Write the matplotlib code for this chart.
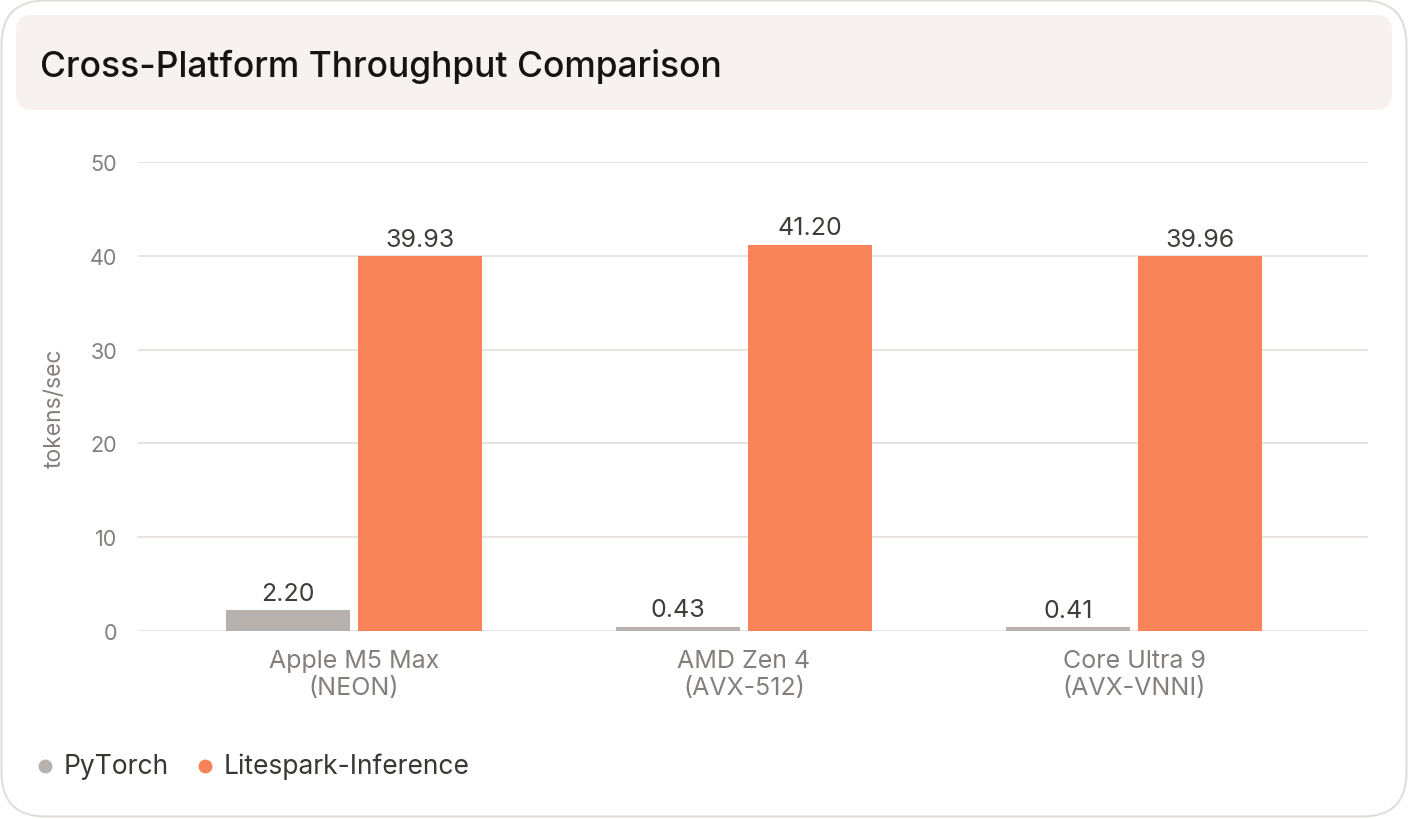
import matplotlib
matplotlib.use("Agg")
from matplotlib import pyplot as plt
from matplotlib.patches import FancyBboxPatch
import numpy as np

# data
platforms = ["Apple M5 Max\n(NEON)", "AMD Zen 4\n(AVX-512)", "Core Ultra 9\n(AVX-VNNI)"]
series_names = ["PyTorch", "Litespark-Inference"]
pytorch_tps = [2.20, 0.43, 0.41]
litespark_tps = [39.93, 41.20, 39.96]
y_ticks = [0, 10, 20, 30, 40, 50]

colors = ["#b7b2ad", "#f98358"]
plt.rcParams['font.family'] = ['Inter', 'DejaVu Sans']

W, H = 1408, 820
fig = plt.figure(figsize=(W / 100, H / 100), dpi=100)

# background card, in pixel coordinates
bg = fig.add_axes([0, 0, 1, 1])
bg.set_xlim(0, W)
bg.set_ylim(H, 0)
bg.axis("off")
bg.add_patch(FancyBboxPatch((1.5, 1.5), W - 3, H - 4, boxstyle="round,pad=0,rounding_size=44",
                            facecolor="white", edgecolor="#e2ddd9", linewidth=1.5))
bg.add_patch(FancyBboxPatch((16, 16), 1376, 95, boxstyle="round,pad=0,rounding_size=16",
                            facecolor="#f7f2ef", edgecolor="none"))
bg.text(40, 66, "Cross-Platform Throughput Comparison", fontsize=25.5, fontweight="medium",
        color="#161412", va="center", ha="left")

# legend
lx = 45
for name, c in zip(series_names, colors):
    bg.plot(lx, 767, "o", markersize=9, color=c)
    t = bg.text(lx + 19, 767, name, fontsize=19, color="#3a3633", va="center", ha="left")
    fig.canvas.draw()
    bb = t.get_window_extent()
    lx = bb.x1 + 36

# main chart
ax = fig.add_axes([138 / W, 1 - 632 / H, 1230 / W, (632 - 163) / H])
x = np.arange(len(platforms))
bw = 0.318
off = 0.169
b1 = ax.bar(x - off, pytorch_tps, width=bw, color=colors[0], zorder=3)
b2 = ax.bar(x + off, litespark_tps, width=bw, color=colors[1], zorder=3)
for bars, vals in ((b1, pytorch_tps), (b2, litespark_tps)):
    for r, v in zip(bars, vals):
        ax.annotate(f"{v:.2f}", (r.get_x() + r.get_width() / 2, v), xytext=(0, 4),
                    textcoords="offset points", ha="center", va="bottom",
                    fontsize=18, color="#403c39")

ax.set_xlim(-0.554, 2.6)
ax.set_ylim(0, 50)
ax.set_yticks(y_ticks)
ax.set_xticks(x)
ax.set_xticklabels(platforms, linespacing=1.2)
ax.tick_params(axis="y", length=0, pad=15, labelsize=15.5, labelcolor="#857f7b")
ax.tick_params(axis="x", length=0, pad=13, labelsize=18, labelcolor="#857f7b")
ax.grid(axis="y", color="#e6e1dd", linewidth=1.3, zorder=0)
ax.set_axisbelow(True)
for s in ax.spines.values():
    s.set_visible(False)
ax.set_ylabel("tokens/sec", fontsize=16.5, color="#857f7b")
ax.yaxis.set_label_coords(-0.059, 0.478)
ax.patch.set_alpha(0)

fig.savefig("out.png", dpi=100)
